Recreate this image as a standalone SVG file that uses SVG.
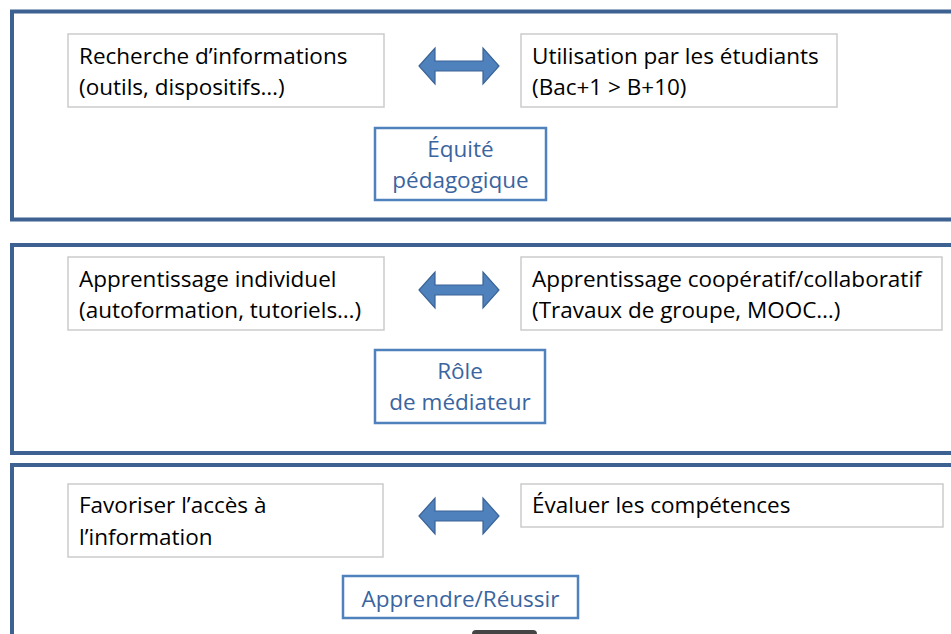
<svg xmlns="http://www.w3.org/2000/svg" width="951" height="634" viewBox="0 0 951 634">
<defs>
<style>
.frame{fill:none;stroke:#3d6190;stroke-width:4}
.box{fill:#fff;stroke:#cbcbcb;stroke-width:1.5}
.bbox{fill:#fff;stroke:#4f81bd;stroke-width:2.5}
.t{font-family:"Open Sans","Liberation Sans",sans-serif;font-size:22.5px;fill:#000}
.bt{font-family:"Open Sans","Liberation Sans",sans-serif;font-size:22.5px;fill:#3a65a0;text-anchor:middle}
.arr{fill:#4f81bd;stroke:#3a6396;stroke-width:1.2}
</style>
<path id="dbl" d="M0,18 L16,0 L16,13 L64,13 L64,0 L80,18 L64,36 L64,23 L16,23 L16,36 Z"/>
</defs>
<rect width="951" height="634" fill="#fff"/>
<g id="frames">
<rect class="frame" x="12" y="11.5" width="960" height="208"/>
<rect class="frame" x="12" y="245" width="960" height="208"/>
<rect class="frame" x="12" y="465" width="960" height="200"/>
</g>
<g id="n1"><rect class="box" x="68" y="34" width="316" height="73"/><text class="t" x="79" y="64">Recherche d’informations</text><text class="t" x="79" y="95">(outils, dispositifs…)</text></g>
<g id="n2"><rect class="box" x="521" y="34" width="316" height="73"/><text class="t" x="532" y="64">Utilisation par les étudiants</text><text class="t" x="532" y="95">(Bac+1 &gt; B+10)</text></g>
<g id="n3"><rect class="bbox" x="375" y="128" width="171" height="72"/><text class="bt" x="460.5" y="157">Équité</text><text class="bt" x="460.5" y="188">pédagogique</text></g>
<g id="n4"><rect class="box" x="68" y="257" width="316" height="73"/><text class="t" x="79" y="287">Apprentissage individuel</text><text class="t" x="79" y="318">(autoformation, tutoriels…)</text></g>
<g id="n5"><rect class="box" x="521" y="257" width="421" height="73"/><text class="t" x="532" y="287">Apprentissage coopératif/collaboratif</text><text class="t" x="532" y="318">(Travaux de groupe, MOOC…)</text></g>
<g id="n6"><rect class="bbox" x="375" y="350" width="170" height="73"/><text class="bt" x="460" y="379">Rôle</text><text class="bt" x="460" y="410">de médiateur</text></g>
<g id="n7"><rect class="box" x="68" y="484" width="315" height="73"/><text class="t" x="79" y="513">Favoriser l’accès à</text><text class="t" x="79" y="545">l’information</text></g>
<g id="n8"><rect class="box" x="521" y="484" width="422" height="43"/><text class="t" x="532" y="513">Évaluer les compétences</text></g>
<g id="n9"><rect class="bbox" x="343" y="576" width="235" height="42"/><text class="bt" x="460.5" y="607">Apprendre/Réussir</text></g>
<g id="connectors">
<use href="#dbl" class="arr" x="419" y="48"/>
<use href="#dbl" class="arr" x="419" y="272"/>
<use href="#dbl" class="arr" x="419" y="498"/>
</g>
<rect x="472" y="630" width="65" height="10" rx="4" fill="#444"/>
</svg>
